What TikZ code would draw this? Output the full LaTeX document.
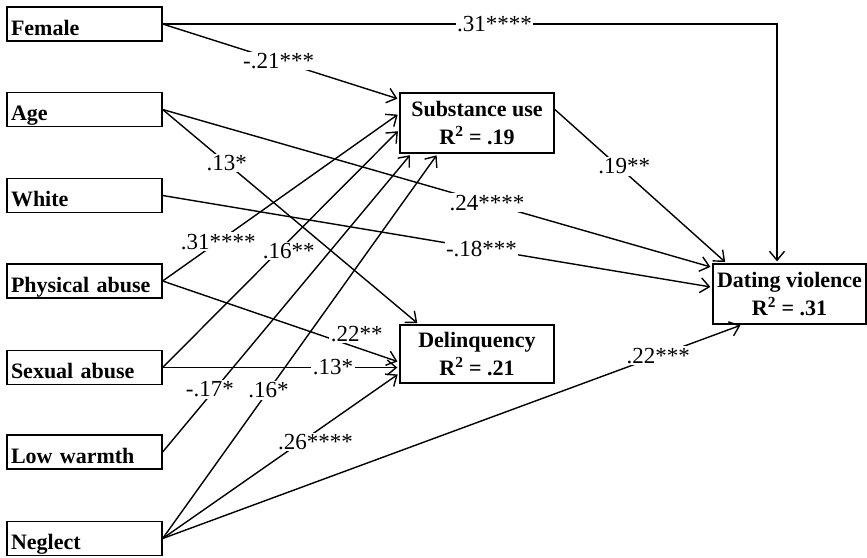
\documentclass[tikz,border=0pt]{standalone}
\usepackage{fontspec}
\setmainfont{Liberation Serif}
\usetikzlibrary{arrows.meta}

\begin{document}
\begin{tikzpicture}[x=1pt, y=-1pt,
    varbox/.style={rectangle, draw, line width=1.3pt, text width=147pt, inner xsep=4pt, inner ysep=3pt, text height=25pt, text depth=3pt, align=left, font=\fontsize{22}{26}\selectfont\bfseries},
    outbox/.style={rectangle, draw, line width=1.3pt, minimum width=154pt, minimum height=60pt, inner sep=2pt, align=center, font=\fontsize{22}{28}\selectfont\bfseries},
    effect/.style={line width=1.4pt, shorten >=2pt, -{Straight Barb[length=9pt, width=15pt, line width=1.4pt]}},
    coef/.style={fill=white, inner sep=1.5pt, font=\fontsize{23}{23}\selectfont}
]

\useasboundingbox (0,0) rectangle (867,557);

% Predictors
\node[varbox] (female) at (84.5, 24)    {Female};
\node[varbox] (age)    at (84.5, 109.5) {Age};
\node[varbox] (white)  at (84.5, 195.5) {White};
\node[varbox] (phys)   at (84.5, 281)   {Physical abuse};
\node[varbox] (sex)    at (84.5, 367.5) {Sexual abuse};
\node[varbox] (warmth) at (84.5, 452)   {Low warmth};
\node[varbox] (neglect) at (84.5, 538.5) {Neglect};

% Mediators and outcome
\node[outbox] (su)  at (477, 123)   {Substance use\\R\textsuperscript{2} = .19};
\node[outbox, minimum height=58pt] (del) at (477, 354) {Delinquency\\R\textsuperscript{2} = .21};
\node[outbox, minimum width=153pt] (dv)  at (789.5, 294) {Dating violence\\R\textsuperscript{2} = .31};

% Paths to substance use
\draw[effect] (female.east) -- node[coef, pos=0.49] {-.21***} (su.163);
\draw[effect] (phys.east) -- node[coef, pos=0.235] {.31****} (su.173);
\draw[effect] (sex.east) -- node[coef, pos=0.49, xshift=10pt] {.16**} (su.185);
\draw[effect] (warmth.east) -- node[coef, pos=0.21, xshift=-5pt] {-.17*} (su.205);
\draw[effect] (neglect.east) -- node[coef, pos=0.385] {.16*} (su.218);

% Paths to delinquency
\draw[effect] (age.east) -- node[coef, pos=0.25] {.13*} (del.153);
\draw[effect] (phys.east) -- node[coef, pos=0.82, yshift=14pt] {.22**} (del.186);
\draw[effect] (sex.east) -- node[coef, pos=0.72] {.13*} (sex.east -| del.west);
\draw[effect] (neglect.east) -- node[coef, pos=0.62, xshift=6pt, yshift=-6pt] {.26****} (del.194);

% Paths to dating violence
\draw[effect] (female.east) -| node[coef, pos=0.27] {.31****} ([xshift=-12.5pt]dv.north);
\draw[effect] (su.10) -- node[coef, pos=0.37, xshift=6pt] {.19**} (dv.154);
\draw[effect] (age.east) -- node[coef, pos=0.59] {.24****} (dv.161);
\draw[effect] (white.east) -- node[coef, pos=0.58] {-.18***} (dv.175);
\draw[effect] (neglect.east) -- node[coef, pos=0.855] {.22***} (dv.213);

\end{tikzpicture}
\end{document}
